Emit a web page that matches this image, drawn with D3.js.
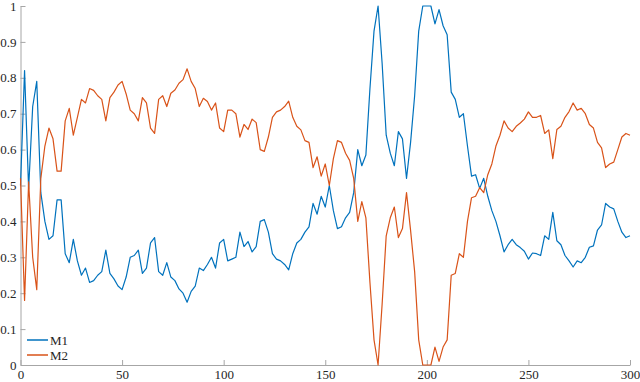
<!DOCTYPE html>
<html>
<head>
<meta charset="utf-8">
<script src="https://cdn.jsdelivr.net/npm/d3@7"></script>
<style>
  body { margin: 0; background: #fff; }
</style>
</head>
<body>
<svg id="chart" width="640" height="382"></svg>
<script>
// sample spacing along x (0..300)
var step = 2;

var m1 = [
  0.50,0.82,0.49,0.72,0.79,0.48,0.40,0.35,0.36,0.46,
  0.46,0.31,0.285,0.35,0.29,0.25,0.27,0.23,0.235,0.25,
  0.26,0.32,0.255,0.24,0.22,0.21,0.245,0.30,0.305,0.32,
  0.255,0.27,0.34,0.355,0.26,0.25,0.285,0.245,0.235,0.212,
  0.20,0.175,0.205,0.22,0.27,0.263,0.28,0.30,0.27,0.34,
  0.35,0.29,0.295,0.30,0.37,0.33,0.344,0.315,0.33,0.40,
  0.405,0.37,0.31,0.295,0.29,0.28,0.265,0.31,0.34,0.35,
  0.37,0.385,0.45,0.42,0.47,0.44,0.50,0.43,0.38,0.385,
  0.41,0.425,0.48,0.60,0.555,0.585,0.77,0.93,1.0,0.84,
  0.64,0.59,0.555,0.65,0.63,0.52,0.62,0.75,0.93,1.0,
  1.0,1.0,0.95,0.99,0.945,0.92,0.76,0.74,0.69,0.70,
  0.61,0.526,0.53,0.492,0.52,0.47,0.43,0.40,0.36,0.315,
  0.335,0.35,0.335,0.327,0.317,0.295,0.312,0.31,0.305,0.36,
  0.35,0.425,0.346,0.335,0.305,0.29,0.273,0.29,0.285,0.30,
  0.328,0.332,0.376,0.39,0.45,0.44,0.435,0.40,0.37,0.355,
  0.36
];

var m2 = [
  0.52,0.18,0.51,0.30,0.21,0.52,0.61,0.66,0.63,0.54,
  0.54,0.68,0.715,0.64,0.69,0.74,0.73,0.77,0.765,0.75,
  0.74,0.68,0.745,0.76,0.78,0.79,0.755,0.71,0.70,0.68,
  0.745,0.73,0.66,0.645,0.74,0.75,0.72,0.757,0.766,0.785,
  0.795,0.825,0.79,0.77,0.72,0.743,0.734,0.71,0.73,0.66,
  0.65,0.71,0.71,0.70,0.635,0.67,0.656,0.685,0.675,0.60,
  0.595,0.635,0.69,0.705,0.71,0.72,0.735,0.69,0.665,0.655,
  0.625,0.62,0.55,0.58,0.526,0.56,0.50,0.575,0.625,0.62,
  0.59,0.57,0.52,0.40,0.455,0.41,0.23,0.07,0.0,0.17,
  0.36,0.41,0.44,0.355,0.38,0.48,0.375,0.26,0.07,0.0,
  0.0,0.0,0.05,0.01,0.05,0.07,0.25,0.255,0.31,0.30,
  0.40,0.466,0.47,0.494,0.48,0.53,0.56,0.61,0.64,0.68,
  0.66,0.65,0.665,0.674,0.685,0.705,0.69,0.69,0.695,0.645,
  0.655,0.575,0.656,0.665,0.69,0.706,0.73,0.71,0.715,0.70,
  0.67,0.66,0.62,0.605,0.55,0.56,0.565,0.60,0.635,0.645,
  0.64
];

var seriesNames = ["M1", "M2"];
var seriesColors = ["#0072BD", "#D95319"];
var xTicks = [0, 50, 100, 150, 200, 250, 300];
var yTicks = [0, 0.1, 0.2, 0.3, 0.4, 0.5, 0.6, 0.7, 0.8, 0.9, 1];

var fontFam = "Liberation Serif";

var svg = d3.select("#chart");

var margin = {top: 6, right: 10, bottom: 17, left: 20.5},
    width = 630 - margin.left,
    height = 365 - margin.top;

var g = svg.append("g")
    .attr("transform", "translate(" + margin.left + "," + margin.top + ")");

var x = d3.scaleLinear().domain([0, 300]).range([0, width]);
var y = d3.scaleLinear().domain([0, 1]).range([height, 0]);

// axes, matlab style: grey, ticks pointing in
var xAxis = g.append("g")
    .attr("transform", "translate(0," + height + ")")
    .call(d3.axisBottom(x).tickValues(xTicks).tickSizeInner(-5).tickSizeOuter(0).tickPadding(5));

var yAxis = g.append("g")
    .call(d3.axisLeft(y).tickValues(yTicks).tickFormat(d3.format("")).tickSizeInner(-5).tickSizeOuter(0).tickPadding(4));

[xAxis, yAxis].forEach(function(ax) {
  ax.attr("font-family", fontFam).attr("font-size", 13);
  ax.select(".domain").attr("stroke", "#a6a6a6");
  ax.selectAll(".tick line").attr("stroke", "#a6a6a6");
  ax.selectAll(".tick text").attr("fill", "#262626");
});

var line = d3.line()
    .x(function(d, i) { return x(i * step); })
    .y(function(d) { return y(d); });

[m1, m2].forEach(function(vals, k) {
  g.append("path")
    .datum(vals)
    .attr("fill", "none")
    .attr("stroke", seriesColors[k])
    .attr("stroke-width", 1.2)
    .attr("stroke-linejoin", "round")
    .attr("d", line);
});

// legend, bottom left, no box
var legend = svg.append("g").attr("transform", "translate(27,340)");
seriesNames.forEach(function(name, k) {
  var row = legend.append("g").attr("transform", "translate(0," + (k * 15) + ")");
  row.append("line")
    .attr("x1", 0).attr("x2", 21)
    .attr("stroke", seriesColors[k])
    .attr("stroke-width", 1.5);
  row.append("text")
    .attr("x", 23).attr("y", 4.5)
    .attr("fill", "#262626")
    .attr("font-family", fontFam)
    .attr("font-size", 13)
    .text(name);
});
</script>
</body>
</html>
